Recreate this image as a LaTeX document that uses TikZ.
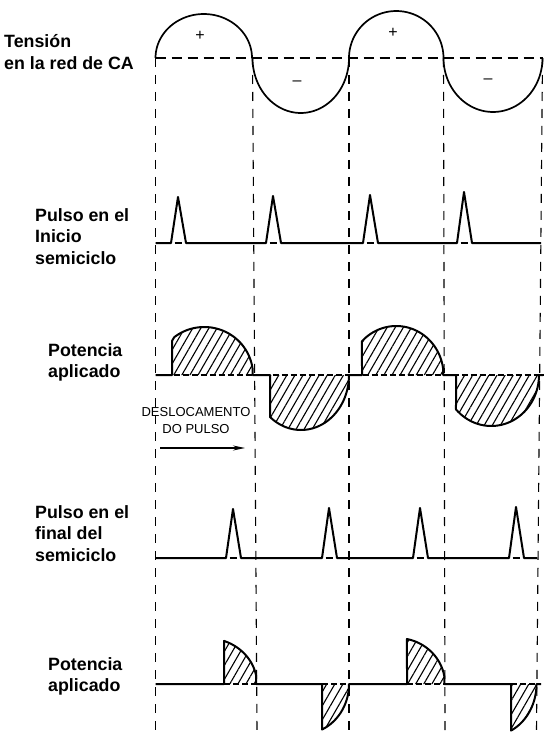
\documentclass[tikz,border=0pt]{standalone}
\usepackage{fontspec}
\setmainfont{Liberation Sans}
\usetikzlibrary{arrows.meta,patterns.meta}

\begin{document}
\begin{tikzpicture}[x=1pt,y=-1pt,
	guide/.style={line width=1.1pt,dash pattern=on 9pt off 8pt},
	wave/.style={line width=2pt,line join=round},
	hatch/.style={pattern={Lines[angle=60,distance=7pt,line width=1.1pt]}},
	basedash/.style={line width=1.8pt,dash pattern=on 6pt off 3pt},
	rowtext/.style={anchor=base west,align=left,inner sep=0pt,font=\bfseries\fontsize{17.8}{21.5}\selectfont},
	sign/.style={inner sep=0pt,font=\fontsize{16}{16}\selectfont}]
	\useasboundingbox (0,0) rectangle (555,746);
	\foreach \i/\xt/\xb in {0/155.5/155.5,1/252.5/257,2/349/349,3/443.5/445,4/542.5/536.5} {
		\node [coordinate] (T\i) at (\xt,58) {};
		\node [coordinate] (U\i) at (\xb,730) {};
		\draw [guide] (T\i) -- (U\i);
	}
	% red de CA
	\node [coordinate] (A0) at (155.5,58) {};
	\node [coordinate] (A4) at (542.5,58) {};
	\draw [line width=1.5pt,dash pattern=on 10pt off 6pt] (A0) -- (A4);
	\draw [wave,line width=1.7pt] (A0)
		-- plot [domain=180:0,samples=50] ({203.75+48.25*cos(\x)},{58-44*sin(\x)})
		-- plot [domain=180:0,samples=50] ({300.75+48.25*cos(\x)},{58+55*sin(\x)})
		-- plot [domain=180:0,samples=50] ({396.25+47.25*cos(\x)},{58-47*sin(\x)})
		-- plot [domain=180:0,samples=50] ({493+49.5*cos(\x)},{58+54*sin(\x)});
	\node [sign] (P1) at (200,36) {+};
	\node [sign] (P2) at (393,33) {+};
	\node [sign] (M1) at (297,83) {--};
	\node [sign] (M2) at (488,81) {--};
	% pulso al inicio
	\node [coordinate] (B0) at (155.5,243) {};
	\node [coordinate] (B4) at (541,243) {};
	\draw [wave] (B0) -- (171,243) -- (178,197) -- (186,243)
		-- (266,243) -- (273,196) -- (281,243)
		-- (363,243) -- (370,195) -- (378,243)
		-- (457,243) -- (464,192) -- (472,243) -- (B4);
	\foreach \p in {178,273,370,464}
		\draw [wave] (\p-3.5,243) -- (\p+3.5,243);
	% potencia 1
	\node [coordinate] (C0) at (155.5,375) {};
	\node [coordinate] (C4) at (543,375) {};
	\draw [wave,hatch] (C0) -- (172,375) -- (172,341)
		-- plot [domain=128:8,samples=40] ({204.25+48.75*cos(\x)},{375-48*sin(\x)}) |- (270,375)
		-- plot [domain=130.2:0,samples=40] ({301+48*cos(\x)},{375+55*sin(\x)}) -- (362,375)
		-- plot [domain=136.5:8,samples=40] ({396.25+47.25*cos(\x)},{375-49*sin(\x)}) |- (456,375)
		-- plot [domain=137.6:0,samples=40] ({491.25+47.75*cos(\x)},{375+51*sin(\x)}) -- (C4);
	\draw [basedash] (C0) -- (C4);
	\node [coordinate] (S0) at (160,448) {};
	\node [coordinate] (S1) at (245,448) {};
	\draw [line width=1.4pt,-{Stealth[length=12pt,width=5pt]}] (S0) -- (S1);
	\node [anchor=base,align=center,inner sep=0pt,font=\fontsize{13}{17}\selectfont] (SH) at (196,433) {DESLOCAMENTO\\DO PULSO};
	% pulso al final
	\node [coordinate] (D0) at (155.5,558) {};
	\node [coordinate] (D4) at (537,558) {};
	\draw [wave] (D0) -- (226,558) -- (233,509) -- (241,558)
		-- (322,558) -- (329,508) -- (337,558)
		-- (413,558) -- (420,508) -- (428,558)
		-- (509,558) -- (516,507) -- (524,558) -- (D4);
	\foreach \p in {233,329,420,516}
		\draw [wave] (\p-3.5,558) -- (\p+3.5,558);
	% potencia 2
	\node [coordinate] (E0) at (155.5,684) {};
	\node [coordinate] (E4) at (541,684) {};
	\draw [wave,hatch] (E0) -- (224,684)
		-- plot [domain=69.5:10,samples=30] ({206.25+50.75*cos(\x)},{684-46*sin(\x)}) |- (322,684)
		-- plot [domain=65.6:0,samples=30] ({303+46*cos(\x)},{684+50*sin(\x)}) -- (407,684)
		-- plot [domain=78:10,samples=30] ({397+48*cos(\x)},{684-46*sin(\x)}) |- (511,684)
		-- plot [domain=63.7:0,samples=30] ({490.75+45.75*cos(\x)},{684+52*sin(\x)}) -- (E4);
	\draw [basedash] (224,684) -- (257,684);
	\draw [basedash] (322,684) -- (349,684);
	\draw [basedash] (407,684) -- (445,684);
	\draw [basedash] (511,684) -- (536.5,684);
	% textos
	\node [rowtext] (L1) at (4,69.5) {Tensión\\en la red de CA};
	\node [rowtext] (L2) at (35,264) {Pulso en el\\Inicio\\semiciclo};
	\node [rowtext] (L3) at (48,377.5) {Potencia\\aplicado};
	\node [rowtext] (L4) at (35,561) {Pulso en el\\final del\\semiciclo};
	\node [rowtext] (L5) at (48,691.5) {Potencia\\aplicado};
\end{tikzpicture}
\end{document}
